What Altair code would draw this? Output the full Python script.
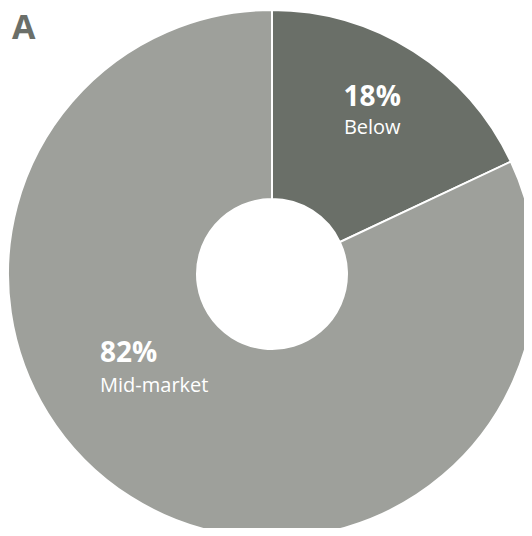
import altair as alt
import pandas as pd

names = ["Below", "Mid-market"]
values = [18, 82]
pct_labels = ["18%", "82%"]
colors = ["#6a6f68", "#9ea09b"]

df = pd.DataFrame({"name": names, "value": values, "pct": pct_labels, "ord": [0, 1]})

CX, CY = 264, 266
base = alt.Chart(df).encode(
    theta=alt.Theta("value:Q", stack=True),
    order=alt.Order("ord:Q"),
)

arc = base.mark_arc(stroke="white", strokeWidth=2).encode(
    x=alt.value(CX), y=alt.value(CY),
    radius=alt.value(264), radius2=alt.value(75),
    color=alt.Color("name:N", scale=alt.Scale(domain=names, range=colors), legend=None),
)

def lab(name, field, r, dx, dy, size, weight, align):
    return base.mark_text(
        font="Open Sans", fontSize=size, fontWeight=weight, color="white",
        align=align, baseline="middle", dx=dx, dy=dy,
    ).encode(
        x=alt.value(CX), y=alt.value(CY),
        radius=alt.value(r),
        text=alt.condition(alt.datum.name == name, alt.Text(f"{field}:N"), alt.value("")),
    )

layers = [
    arc,
    lab("Below", "pct", 202, -8, -5, 28, "bold", "center"),
    lab("Below", "name", 202, -8, 25, 20, "normal", "center"),
    lab("Mid-market", "pct", 110, -113, -13, 28, "bold", "left"),
    lab("Mid-market", "name", 110, -113, 19, 20, "normal", "left"),
]

title = alt.Chart(pd.DataFrame({"t": ["A"]})).mark_text(
    font="Open Sans", fontSize=34, fontWeight="bold", color="#6b6f69",
    align="left", baseline="alphabetic",
).encode(x=alt.value(4), y=alt.value(31), text="t:N")

chart = alt.layer(*layers, title).properties(
    width=516, height=520, padding=0, autosize=alt.AutoSizeParams(type="none")
).configure_view(stroke=None)

chart.save("out.html", embed_options={"renderer": "svg", "actions": False})
